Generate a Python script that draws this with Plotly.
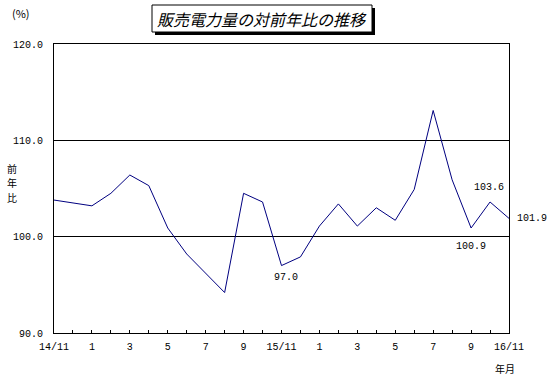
import plotly.graph_objects as go

months = ["14/11", "12", "1", "2", "3", "4", "5", "6", "7", "8", "9", "10",
          "15/11", "12", "1", "2", "3", "4", "5", "6", "7", "8", "9", "10", "16/11"]
values = [103.8, 103.5, 103.2, 104.5, 106.4, 105.3, 100.9, 98.2, 96.2, 94.2, 104.5, 103.6,
          97.0, 97.9, 101.1, 103.4, 101.1, 103.0, 101.7, 104.9, 113.1, 105.9, 100.9, 103.6, 101.9]
tick_idx = list(range(0, 25, 2))
tick_text = [months[i] for i in tick_idx]
y_ticks = [90, 100, 110, 120]
# index -> (label, xshift, yshift, xanchor, yanchor)
labeled = {12: ("97.0", 4, -4, "center", "top"),
           22: ("100.9", 0, -11, "center", "top"),
           23: ("103.6", -1, 7, "center", "bottom"),
           24: ("101.9", 6, 0, "left", "middle")}
y_title_chars = ["前", "年", "比"]

W, H = 548, 379
L, R, T, B = 54, 39, 44, 46
pw, ph = W - L - R, H - T - B

def px(x):
    return (x - L) / pw

def py(y):
    return (H - B - y) / ph

x = list(range(len(values)))
fig = go.Figure()
fig.add_trace(go.Scatter(x=x, y=values, mode="lines",
                         line=dict(color="#000080", width=1), hoverinfo="skip"))

mono = "Liberation Mono"
jp = "Noto Sans CJK JP"
for i, (txt, xs, ys, xa, ya) in labeled.items():
    fig.add_annotation(x=x[i], y=values[i], text=txt, showarrow=False,
                       xanchor=xa, yanchor=ya, xshift=xs, yshift=ys,
                       font=dict(family=mono, size=10, color="black"))

# title box with shadow
fig.add_shape(type="rect", xref="paper", yref="paper",
              x0=px(155), x1=px(375), y0=py(35), y1=py(8),
              fillcolor="black", line=dict(width=0), layer="above")
fig.add_shape(type="rect", xref="paper", yref="paper",
              x0=px(152), x1=px(372), y0=py(32), y1=py(5),
              fillcolor="white", line=dict(color="black", width=1), layer="above")
fig.add_annotation(xref="paper", yref="paper", x=px(262), y=py(18.5),
                   text="<i>販売電力量の対前年比の推移</i>", showarrow=False,
                   xanchor="center", yanchor="middle",
                   font=dict(family=jp, size=16, color="black"))

fig.add_annotation(xref="paper", yref="paper", x=px(10), y=py(13), text="(%)",
                   showarrow=False, xanchor="left", yanchor="middle",
                   font=dict(family=jp, size=11, color="black"))
for k, ch in enumerate(y_title_chars):
    fig.add_annotation(xref="paper", yref="paper", x=px(12), y=py(168 + 14.5 * k), text=ch,
                       showarrow=False, xanchor="center", yanchor="middle",
                       font=dict(family=jp, size=10, color="black"))
fig.add_annotation(xref="paper", yref="paper", x=px(505), y=py(368), text="年月",
                   showarrow=False, xanchor="center", yanchor="middle",
                   font=dict(family=jp, size=10, color="black"))

fig.update_xaxes(range=[0, 24], tickvals=tick_idx, ticktext=tick_text,
                 ticks="inside", ticklen=3, tickcolor="black",
                 minor=dict(dtick=1, tick0=0, ticks="inside", ticklen=3, tickcolor="black", showgrid=False),
                 showline=True, linecolor="black", linewidth=1, mirror=True,
                 showgrid=False, zeroline=False, ticklabelstandoff=4,
                 tickfont=dict(family=mono, size=10, color="black"))
fig.update_yaxes(range=[90, 120], tickvals=y_ticks, tickformat=".1f",
                 ticks="", showline=True, linecolor="black", linewidth=1, mirror=True,
                 showgrid=True, gridcolor="black", gridwidth=1, zeroline=False,
                 tickfont=dict(family=mono, size=10, color="black"), ticklabelstandoff=8)
fig.update_layout(width=W, height=H, margin=dict(l=L, r=R, t=T, b=B, autoexpand=False),
                  plot_bgcolor="white", paper_bgcolor="white", showlegend=False)
fig.write_html("out.html", config={"displayModeBar": False},
               post_script="document.body.style.margin='0';")
